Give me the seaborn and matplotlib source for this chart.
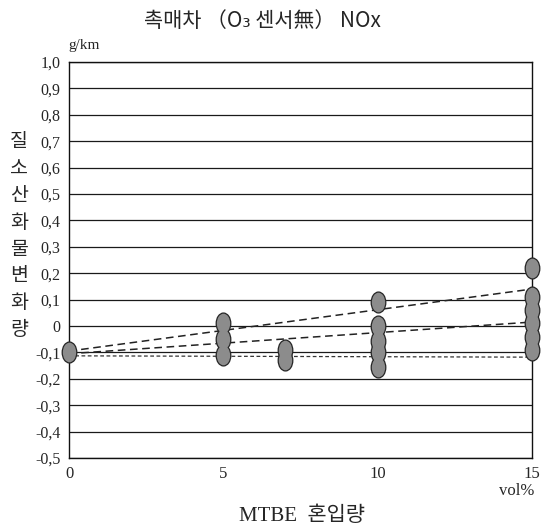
import numpy as np
import pandas as pd
import matplotlib
matplotlib.use('Agg')
import matplotlib.pyplot as plt
from matplotlib.path import Path
from matplotlib.transforms import Affine2D
import seaborn as sns

# NOx change (g/km) measured at each MTBE blend level (vol%)
nox_at_0 = [-0.10]
nox_at_5 = [0.01, -0.05, -0.11]
nox_at_7 = [-0.09, -0.13]
nox_at_10 = [0.09, 0.00, -0.055, -0.10, -0.155]
nox_at_15 = [0.22, 0.11, 0.06, 0.01, -0.04, -0.09]

# trend lines (value at 0 and 15 vol%)
trend_x = [0, 15]
trend_upper = [-0.095, 0.14]
trend_mid = [-0.105, 0.015]
trend_low = [-0.113, -0.118]

x_ticks = [0, 5, 10, 15]
y_ticks = [1.0, 0.9, 0.8, 0.7, 0.6, 0.5, 0.4, 0.3, 0.2, 0.1, 0.0,
           -0.1, -0.2, -0.3, -0.4, -0.5]
y_tick_labels = ['1,0', '0,9', '0,8', '0,7', '0,6', '0,5', '0,4', '0,3', '0,2',
                 '0,1', '0', '-0,1', '-0,2', '-0,3', '-0,4', '-0,5']
ylabel_chars = ['질', '소', '산', '화', '물', '변', '화', '량']

df = pd.concat([
    pd.DataFrame({'mtbe': 0, 'nox': nox_at_0}),
    pd.DataFrame({'mtbe': 5, 'nox': nox_at_5}),
    pd.DataFrame({'mtbe': 7, 'nox': nox_at_7}),
    pd.DataFrame({'mtbe': 10, 'nox': nox_at_10}),
    pd.DataFrame({'mtbe': 15, 'nox': nox_at_15}),
], ignore_index=True)

sns.set_theme(style='white')
plt.rcParams['font.family'] = ['Liberation Serif', 'Noto Sans CJK KR']

fig = plt.figure(figsize=(5.48, 5.29), dpi=100)
ax = fig.add_axes([69 / 548, 1 - 458 / 529, 463 / 548, 396 / 529])

# grid
for v in y_ticks:
    ax.axhline(v, color='#1a1a1a', lw=0.9, zorder=1)

sns.lineplot(x=trend_x, y=trend_upper, ax=ax, color='#222222', lw=1.1,
             linestyle=(0, (5, 3)), zorder=2)
sns.lineplot(x=trend_x, y=trend_mid, ax=ax, color='#222222', lw=1.1,
             linestyle=(0, (5, 3)), zorder=2)
sns.lineplot(x=trend_x, y=trend_low, ax=ax, color='#333333', lw=0.9,
             linestyle=(0, (3, 2)), zorder=2)

# stacked points look like one blob: outline layer, then fill layer on top
ellipse = Affine2D().scale(0.68, 1.0).transform_path(Path.unit_circle())
sns.scatterplot(data=df, x='mtbe', y='nox', ax=ax, marker=ellipse, s=200,
                color='#262626', edgecolor='#262626', linewidth=1.8,
                zorder=3, clip_on=False)
sns.scatterplot(data=df, x='mtbe', y='nox', ax=ax, marker=ellipse, s=200,
                color='#8c8c8c', linewidth=0,
                zorder=4, clip_on=False)

ax.set_xlim(0, 15)
ax.set_ylim(-0.5, 1.0)
ax.set_xticks(x_ticks)
ax.set_xticklabels([str(t) for t in x_ticks], fontsize=12)
ax.set_yticks(y_ticks)
ax.set_yticklabels(y_tick_labels, fontsize=11.5)
ax.tick_params(length=0, pad=6)
ax.set_xlabel('')
ax.set_ylabel('')
for side in ['left', 'right', 'top', 'bottom']:
    ax.spines[side].set_color('#111111')
    ax.spines[side].set_linewidth(1.0)

fig.text(262 / 548, 1 - 21 / 529, '촉매차 （O₃ 센서無） NOx', ha='center', va='center',
         fontsize=15, family=['Noto Sans CJK KR', 'DejaVu Sans'])
fig.text(68 / 548, 1 - 45 / 529, 'g/km', ha='left', va='center', fontsize=11)
for i, ch in enumerate(ylabel_chars):
    fig.text(19 / 548, 1 - (142 + i * 26.8) / 529, ch, ha='center', va='center',
             fontsize=14, family='Noto Sans CJK KR')
fig.text(517 / 548, 1 - 491 / 529, 'vol%', ha='center', va='center', fontsize=12)
fig.text(302 / 548, 1 - 516 / 529, 'MTBE  혼입량', ha='center', va='center', fontsize=15)

fig.savefig('out.png', dpi=100, facecolor='white')
